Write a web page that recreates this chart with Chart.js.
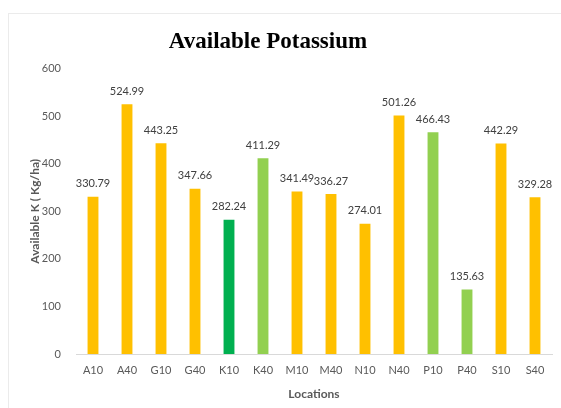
<!DOCTYPE html>
<html>
<head>
<meta charset="utf-8">
<script src="https://cdn.jsdelivr.net/npm/chart.js@4"></script>
<style>
  html, body { margin: 0; padding: 0; background: #fff; }
  #wrap { position: relative; width: 561px; height: 408px; overflow: hidden; }
  #frame { position: absolute; left: 8px; top: 13px; width: 600px; height: 420px; border: 1.5px solid #ebebeb; }
  canvas { position: absolute; left: 0; top: 0; }
</style>
</head>
<body>
<div id="wrap">
  <div id="frame"></div>
  <canvas id="chart" width="561" height="408"></canvas>
</div>
<script>
const locations = ['A10', 'A40', 'G10', 'G40', 'K10', 'K40', 'M10', 'M40', 'N10', 'N40', 'P10', 'P40', 'S10', 'S40'];
const potassium = [330.79, 524.99, 443.25, 347.66, 282.24, 411.29, 341.49, 336.27, 274.01, 501.26, 466.43, 135.63, 442.29, 329.28];
const barColors = ['#FFC000', '#FFC000', '#FFC000', '#FFC000', '#00B050', '#92D050', '#FFC000', '#FFC000', '#FFC000', '#FFC000', '#92D050', '#92D050', '#FFC000', '#FFC000'];
const yTicks = [0, 100, 200, 300, 400, 500, 600];

const fontFamily = 'Lato, "Open Sans", sans-serif';

// draws the value above every bar
const valueLabels = {
    id: 'valueLabels',
    afterDatasetsDraw(chart) {
        const ctx = chart.ctx;
        const meta = chart.getDatasetMeta(0);
        ctx.save();
        ctx.font = '11px ' + fontFamily;
        ctx.fillStyle = '#404040';
        ctx.textAlign = 'center';
        ctx.textBaseline = 'middle';
        meta.data.forEach((bar, i) => {
            ctx.fillText(potassium[i].toFixed(2), bar.x, bar.y - 13);
        });
        ctx.restore();
    }
};

new Chart(document.getElementById('chart'), {
    type: 'bar',
    data: {
        labels: locations,
        datasets: [{
            data: potassium,
            backgroundColor: barColors,
            borderWidth: 0,
            barPercentage: 0.32,
            categoryPercentage: 1
        }]
    },
    options: {
        responsive: false,
        animation: false,
        layout: { padding: { left: -16, right: 9, top: 0, bottom: 0 } },
        plugins: {
            legend: { display: false },
            tooltip: { enabled: false },
            title: {
                display: true,
                text: 'Available Potassium',
                color: '#000',
                font: { family: '"Liberation Serif", "Times New Roman", serif', size: 23, weight: 'bold' },
                padding: { top: 28, bottom: 13 }
            }
        },
        scales: {
            x: {
                grid: { display: false },
                border: { display: true, color: '#d9d9d9', width: 1 },
                ticks: { color: '#595959', font: { family: fontFamily, size: 11 }, padding: 2, maxRotation: 0 },
                title: {
                    display: true,
                    text: 'Locations',
                    color: '#595959',
                    font: { family: fontFamily, size: 12, weight: 'bold' },
                    padding: { top: 4, bottom: 7 }
                },
                afterFit(scale) { scale.height = 54; }
            },
            y: {
                min: 0,
                max: 600,
                afterBuildTicks(scale) { scale.ticks = yTicks.map(v => ({ value: v })); },
                grid: { display: false },
                border: { display: false },
                ticks: { color: '#595959', font: { family: fontFamily, size: 11 }, padding: 7 },
                title: {
                    display: true,
                    text: 'Available K ( Kg/ha)',
                    color: '#595959',
                    font: { family: fontFamily, size: 12, weight: 'bold' },
                    padding: { top: 44, bottom: 0 }
                },
                afterFit(scale) { scale.width = 92; }
            }
        }
    },
    plugins: [valueLabels]
});
</script>
</body>
</html>
